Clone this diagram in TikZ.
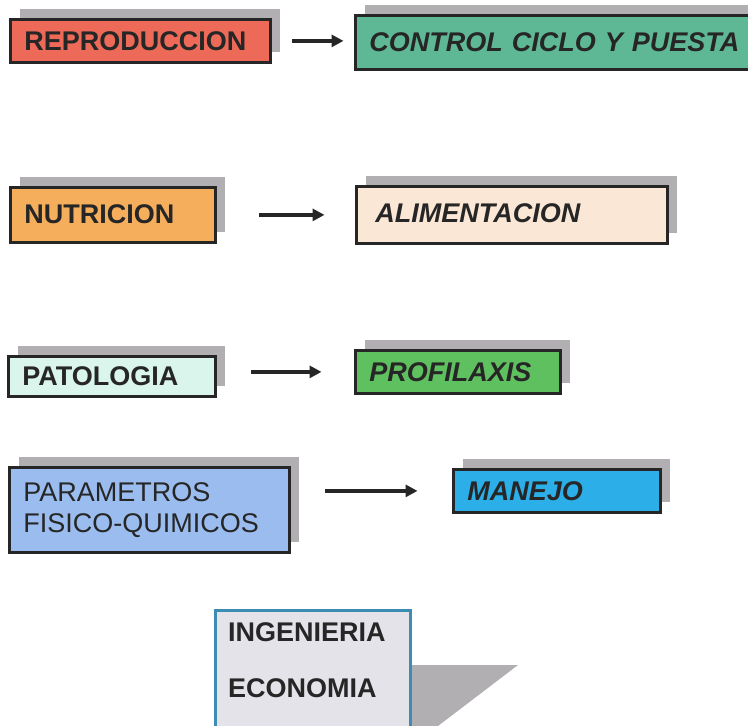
\documentclass[tikz,border=0pt]{standalone}
\usepackage{fontspec}
\setmainfont{Liberation Sans}
\usetikzlibrary{arrows.meta,shadows}
\definecolor{txt}{HTML}{262626}
\definecolor{shd}{HTML}{B2AFB2}
\definecolor{cRep}{HTML}{EE6A58}
\definecolor{cCtl}{HTML}{5EB896}
\definecolor{cNut}{HTML}{F5AE5C}
\definecolor{cAli}{HTML}{FBE7D6}
\definecolor{cPat}{HTML}{DAF5EC}
\definecolor{cPro}{HTML}{5EC05E}
\definecolor{cPar}{HTML}{9ABCEE}
\definecolor{cMan}{HTML}{2CAFE8}
\definecolor{cIng}{HTML}{E3E3E9}
\definecolor{cIngB}{HTML}{3D8CB4}
\tikzset{
  box/.style={draw=txt, line width=3.8pt, anchor=north west, inner xsep=14pt, inner ysep=0pt,
    align=left, text=txt, font=\fontsize{27}{31}\selectfont\bfseries,
    general shadow={fill=shd, shadow xshift=9.5pt, shadow yshift=10pt}},
  ibox/.style={box, font=\fontsize{27}{31}\selectfont\bfseries\itshape},
  arr/.style={draw=txt, line width=3.8pt, -{Triangle[length=12pt,width=12pt]}},
}
\begin{document}
\begin{tikzpicture}[x=1pt,y=-1pt]
\useasboundingbox (0,0) rectangle (748,726);
\fill[white] (0,0) rectangle (748,726);
% row 1
\node[box, fill=cRep, text width=232pt, minimum height=43pt] (rep) at (8.5,17.5) {REPRODUCCION};
\node[ibox, fill=cCtl, text width=370pt, minimum height=54pt] (ctl) at (353.5,13.5) {CONTROL CICLO Y PUESTA};
% row 2
\node[box, fill=cNut, text width=177pt, minimum height=55pt] (nut) at (8.5,185.5) {\raisebox{2pt}{NUTRICION}};
\node[ibox, fill=cAli, text width=283pt, minimum height=57pt] (ali) at (354.5,184.5) {\hspace*{5pt}\raisebox{3pt}{ALIMENTACION}};
% row 3
\node[box, fill=cPat, text width=179pt, minimum height=40pt] (pat) at (6.5,354.5) {\raisebox{-2pt}{PATOLOGIA}};
\node[ibox, fill=cPro, text width=177pt, minimum height=43pt] (pro) at (353.5,348.5) {PROFILAXIS};
% row 4
\node[box, fill=cPar, text width=252pt, minimum height=85pt, font=\fontsize{27}{31}\selectfont] (par) at (7.5,465.5) {PARAMETROS\\FISICO-QUIMICOS};
\node[ibox, fill=cMan, text width=179pt, minimum height=43pt] (man) at (451.5,467.5) {MANEJO};
% arrows
\draw[arr] ([xshift=20pt]rep.east) -- ([xshift=-10pt]rep.east -| ctl.west);
\draw[arr] ([xshift=42pt]nut.east) -- ([xshift=-30pt]nut.east -| ali.west);
\draw[arr] ([xshift=34pt]pat.east |- pro.west) -- ([xshift=-32pt]pro.west);
\draw[arr] ([xshift=34pt]par.east |- man.west) -- ([xshift=-34pt]man.west);
% bottom box
\fill[shd] (410,665) -- (518,665) -- (438,726) -- (410,726) -- cycle;
\node[draw=cIngB, line width=3pt, fill=cIng, anchor=north west, minimum width=195pt, minimum height=130pt,
  inner sep=0pt] (ing) at (213.5,608.5) {};
\node[anchor=west, text=txt, font=\fontsize{27}{31}\selectfont\bfseries, inner sep=0pt] (ingt) at (228,632) {INGENIERIA};
\node[anchor=west, text=txt, font=\fontsize{27}{31}\selectfont\bfseries, inner sep=0pt] (eco) at (228,688) {ECONOMIA};
\end{tikzpicture}
\end{document}
